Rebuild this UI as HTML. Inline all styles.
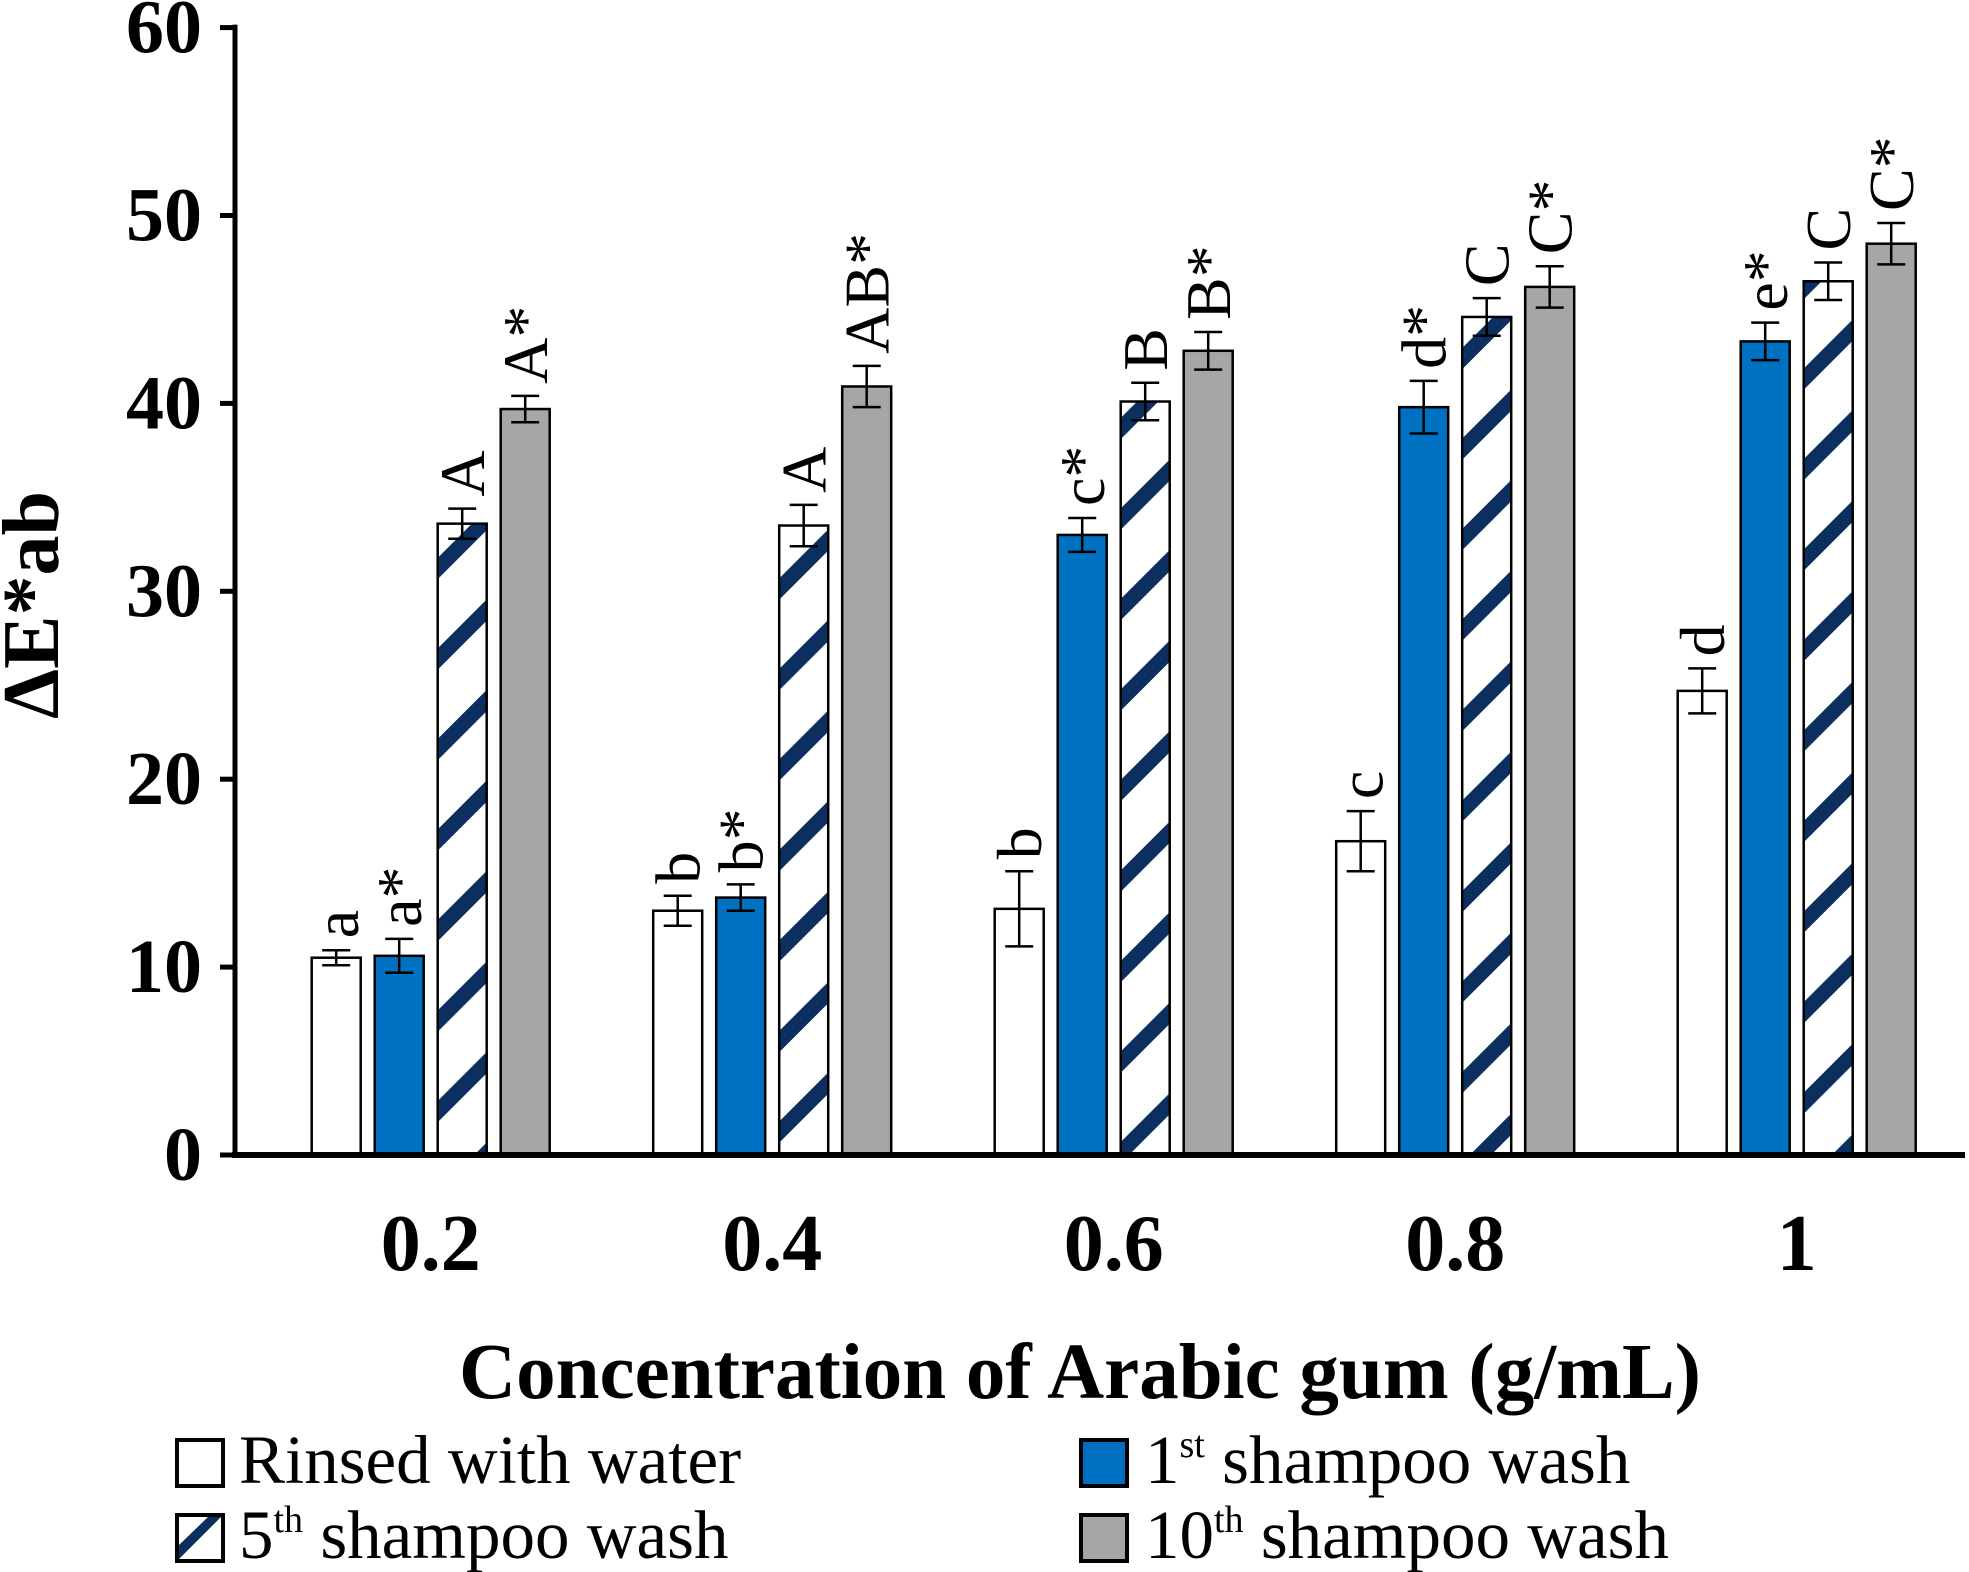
<!DOCTYPE html>
<html><head><meta charset="utf-8"><style>
html,body{margin:0;padding:0;background:#fff}
svg{display:block}
text{font-family:"Liberation Serif",serif}
</style></head><body>
<svg id="chart" width="1969" height="1572" viewBox="0 0 1969 1572">
<defs>
<pattern id="hatch" patternUnits="userSpaceOnUse" width="64" height="64" patternTransform="rotate(-45)">
<rect width="64" height="64" fill="#fff"/>
<rect y="0" width="64" height="15" fill="#0b2f5f"/>
</pattern>
</defs>
<g id="plot"></g>
</svg>
<script>
const categories = ["0.2","0.4","0.6","0.8","1"];
const seriesNames = ["Rinsed with water","1st shampoo wash","5th shampoo wash","10th shampoo wash"];
const rinsed = [10.5, 13.0, 13.1, 16.7, 24.7];
const wash1 = [10.6, 13.7, 33.0, 39.8, 43.3];
const wash5 = [33.6, 33.5, 40.1, 44.6, 46.5];
const wash10 = [39.7, 40.9, 42.8, 46.2, 48.5];
const errRinsed = [0.4, 0.8, 2.0, 1.6, 1.2];
const errWash1 = [0.9, 0.7, 0.9, 1.4, 1.0];
const errWash5 = [0.8, 1.1, 1.0, 1.0, 1.0];
const errWash10 = [0.7, 1.1, 1.0, 1.1, 1.1];
const lblRinsed = ["a","b","b","c","d"];
const lblWash1 = ["a*","b*","c*","d*","e*"];
const lblWash5 = ["A","A","B","C","C"];
const lblWash10 = ["A*","AB*","B*","C*","C*"];
const yTicks = [0,10,20,30,40,50,60];

const NS="http://www.w3.org/2000/svg";
const g=document.getElementById('plot');
function mk(tag,attrs,parent){const e=document.createElementNS(NS,tag);for(const k in attrs)e.setAttribute(k,attrs[k]);(parent||g).appendChild(e);return e;}
const x0=235,y0=1155,yTop=27.6,yMax=60;
const yScale=v=>y0-(v/yMax)*(y0-yTop);
const groupW=341.5, firstC=430.7;
const xCenter=i=>firstC+i*groupW;
const barW=49,pitch=63;
const barX=(i,s)=>xCenter(i)+(s-1.5)*pitch-barW/2;

const series=[
 {vals:rinsed,err:errRinsed,lbl:lblRinsed,fill:"#fff",name:"rinsed"},
 {vals:wash1,err:errWash1,lbl:lblWash1,fill:"#0070c0",name:"wash1"},
 {vals:wash5,err:errWash5,lbl:lblWash5,fill:"url(#hatch)",name:"wash5"},
 {vals:wash10,err:errWash10,lbl:lblWash10,fill:"#a6a6a6",name:"wash10"}];

series.forEach((s,si)=>{
 s.vals.forEach((v,i)=>{
  const x=barX(i,si), y=yScale(v);
  const r=mk('rect',{x:x,y:y,width:barW,height:y0-y,fill:s.fill,stroke:"#000","stroke-width":2.5});
  
  
  const cx=x+barW/2, yt=yScale(v+s.err[i]), yb=yScale(v-s.err[i]);
  const eb=mk('path',{d:`M${cx} ${yt}V${yb}M${cx-14} ${yt}H${cx+14}M${cx-14} ${yb}H${cx+14}`,stroke:"#000","stroke-width":2.5,fill:"none"});
  
  
  const t=mk('text',{x:0,y:0,transform:`translate(${cx+22},${yt-12}) rotate(-90)`,"font-size":64});
  t.textContent=s.lbl[i];
  
  
 });
});

const ya=mk('line',{x1:x0,y1:yTop-3,x2:x0,y2:y0+3,stroke:"#000","stroke-width":5});


const xa=mk('line',{x1:x0-3,y1:y0,x2:1965,y2:y0,stroke:"#000","stroke-width":6});


yTicks.forEach(v=>{
 const y=yScale(v);
 const tk=mk('line',{x1:220,y1:y,x2:x0,y2:y,stroke:"#000","stroke-width":5});
 
 
 const t=mk('text',{x:202,y:y+25,"text-anchor":"end","font-size":76,"font-weight":"bold"});
 t.textContent=v;
 
 
});
categories.forEach((c,i)=>{
 const t=mk('text',{x:xCenter(i),y:1270,"text-anchor":"middle","font-size":80,"font-weight":"bold"});
 t.textContent=c;
 
 
});
</script>
<svg style="position:absolute;left:0;top:0" width="1969" height="1572">
<text x="1080" y="1398" text-anchor="middle" font-size="79" font-weight="bold">Concentration of Arabic gum (g/mL)</text>
<text transform="translate(58,605) rotate(-90)" text-anchor="middle" font-size="80" font-weight="bold">ΔE*ab</text>
<g>
<g>
<rect x="177" y="1440" width="46" height="46" fill="#fff" stroke="#000" stroke-width="4"/>
<text x="239" y="1483" font-size="69">Rinsed with water</text></g>
<g>
<rect x="1081" y="1440" width="46" height="46" fill="#0070c0" stroke="#000" stroke-width="4"/>
<text x="1145" y="1483" font-size="69">1<tspan font-size="38" dy="-26">st</tspan><tspan dy="26"> shampoo wash</tspan></text></g>
<g>
<rect x="177" y="1515" width="46" height="46" fill="#fff" stroke="#000" stroke-width="4"/>
<polygon points="179,1559 179,1545 208,1517 221,1517" fill="#0b2f5f"/>
<text x="239" y="1558" font-size="69">5<tspan font-size="38" dy="-26">th</tspan><tspan dy="26"> shampoo wash</tspan></text></g>
<g>
<rect x="1081" y="1515" width="46" height="46" fill="#a6a6a6" stroke="#000" stroke-width="4"/>
<text x="1145" y="1558" font-size="69">10<tspan font-size="38" dy="-26">th</tspan><tspan dy="26"> shampoo wash</tspan></text></g>
</g>
</svg>
</body></html>
